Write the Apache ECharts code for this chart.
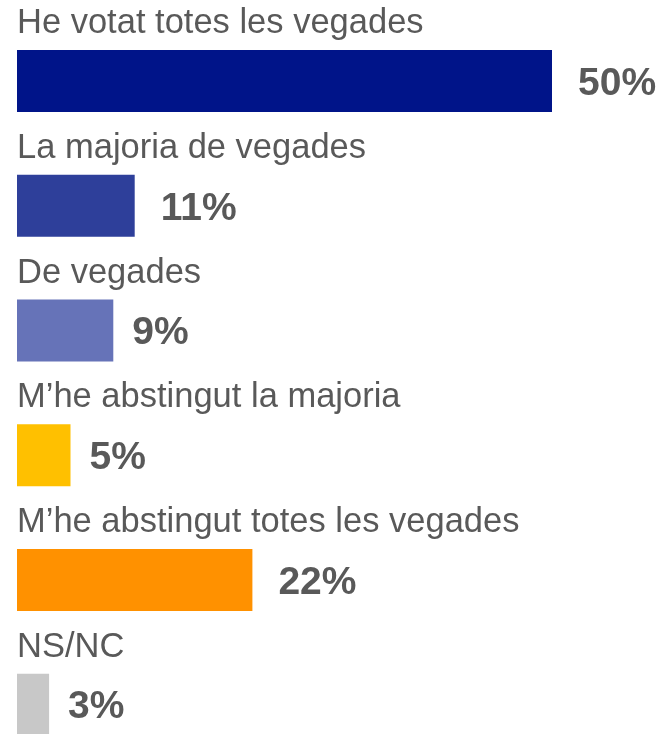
<!DOCTYPE html>
<html>
<head>
<meta charset="utf-8">
<script src="https://cdn.jsdelivr.net/npm/echarts@6/dist/echarts.min.js"></script>
<style>
html,body{margin:0;padding:0;background:#fff;overflow:hidden;}
#chart{width:664px;height:767px;}
</style>
</head>
<body>
<div id="chart"></div>
<script>
const categories = ["He votat totes les vegades", "La majoria de vegades", "De vegades", "M\u2019he abstingut la majoria", "M\u2019he abstingut totes les vegades", "NS/NC"];
const values = [50, 11, 9, 5, 22, 3];
const barColors = ["#001489", "#2E3F9A", "#6673B8", "#FFC000", "#FF9100", "#C8C8C8"];
const labelGaps = [26, 26, 19, 19, 26, 19];

const font = 'Liberation Sans, Arial, sans-serif';
const chart = echarts.init(document.getElementById('chart'), null, {renderer: 'canvas'});
chart.setOption({
  animation: false,
  grid: {left: 17, right: 5, top: 18.7, bottom: 0, containLabel: false},
  xAxis: {type: 'value', min: 0, max: 60, show: false},
  yAxis: {
    type: 'category', data: categories, inverse: true, show: false
  },
  series: [{
    type: 'bar', barWidth: 62, z: 2,
    data: values.map((v, i) => ({value: v, itemStyle: {color: barColors[i]}, label: {distance: labelGaps[i]}})),
    label: {
      show: true, position: 'right', offset: [0, 3], formatter: '{c}%',
      color: '#595959', fontFamily: font, fontSize: 39, fontWeight: 'bold'
    }
  }, {
    type: 'bar', barWidth: 62, barGap: '-100%', z: 3, silent: true,
    data: values,
    itemStyle: {color: 'rgba(0,0,0,0)'},
    label: {
      show: true, position: [0, -26.5], align: 'left', verticalAlign: 'middle',
      formatter: '{b}', color: '#595959', fontFamily: font, fontSize: 34.5
    }
  }]
});
</script>
</body>
</html>
